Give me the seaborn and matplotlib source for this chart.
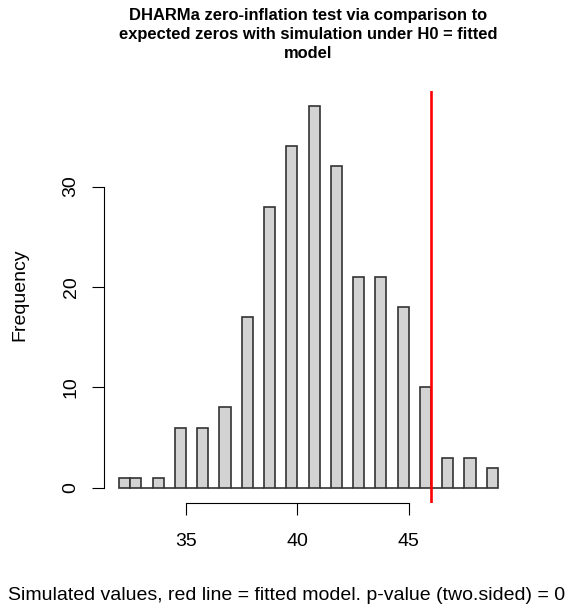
import numpy as np
import pandas as pd
import matplotlib
matplotlib.use("Agg")
import matplotlib.pyplot as plt
import seaborn as sns

# ---- data ----
sim_values = [32, 33, 34, 35, 36, 37, 38, 39, 40, 41, 42, 43, 44, 45, 46, 47, 48, 49]
sim_counts = [1, 1, 1, 6, 6, 8, 17, 28, 34, 38, 32, 21, 21, 18, 10, 3, 3, 2]
observed = 46
x_ticks = [35, 40, 45]
y_ticks = [0, 10, 20, 30]
title = ("DHARMa zero-inflation test via comparison to\n"
         "expected zeros with simulation under H0 = fitted\n"
         "model")
x_label = "Simulated values, red line = fitted model. p-value (two.sided) = 0"
y_label = "Frequency"

sns.set_style("white")
plt.rcParams['font.family'] = ['Liberation Sans', 'DejaVu Sans']

W, H = 574, 604
fig = plt.figure(figsize=(W / 100, H / 100), dpi=100)
L, R, T, B = 104, 513, 91, 503
ax = fig.add_axes([L / W, 1 - B / H, (R - L) / W, (B - T) / H])

# R hist: right-closed bins of width 0.5 (lowest included)
lo, hi = min(sim_values), max(sim_values)
bin_mid = [max(v - 0.25, lo + 0.25) for v in sim_values]
df = pd.DataFrame({"x": bin_mid, "n": sim_counts})
sns.histplot(data=df, x="x", weights="n", binwidth=0.5, binrange=(lo, hi),
             color="#D3D3D3", edgecolor="#333333", linewidth=1.2, alpha=1,
             ax=ax)
ax.axvline(observed, color="red", linewidth=1.9)

span = hi - lo
ax.set_xlim(lo - 0.04 * span, hi + 0.04 * span)
ymax = max(sim_counts)
ax.set_ylim(-0.04 * ymax, ymax * 1.04)

for s in ["top", "right"]:
    ax.spines[s].set_visible(False)
for s in ["left", "bottom"]:
    ax.spines[s].set_color("black")
    ax.spines[s].set_linewidth(0.8)
ax.spines["left"].set_bounds(y_ticks[0], y_ticks[-1])
ax.spines["bottom"].set_bounds(x_ticks[0], x_ticks[-1])

ax.set_xticks(x_ticks)
ax.set_yticks(y_ticks)
ax.tick_params(axis="both", direction="out", length=8.5, width=0.8,
               color="black", labelsize=14, labelcolor="black",
               bottom=True, left=True)
ax.tick_params(axis="x", pad=13)
ax.tick_params(axis="y", pad=9)
for lab in ax.get_yticklabels():
    lab.set_rotation(90)
    lab.set_va("center")

ax.set_xlabel(x_label, fontsize=14, color="black")
ax.xaxis.set_label_coords((286.5 - L) / (R - L), (B - 595) / (B - T))
ax.xaxis.label.set_va("center")
ax.set_ylabel(y_label, fontsize=14, color="black")
ax.yaxis.set_label_coords((20 - L) / (R - L), (B - 295) / (B - T))
ax.yaxis.label.set_va("center")

ax.set_title(title, fontsize=11.9, fontweight="bold", color="black",
             pad=24, linespacing=1.3)

fig.savefig("out.png", dpi=100, facecolor="white")
